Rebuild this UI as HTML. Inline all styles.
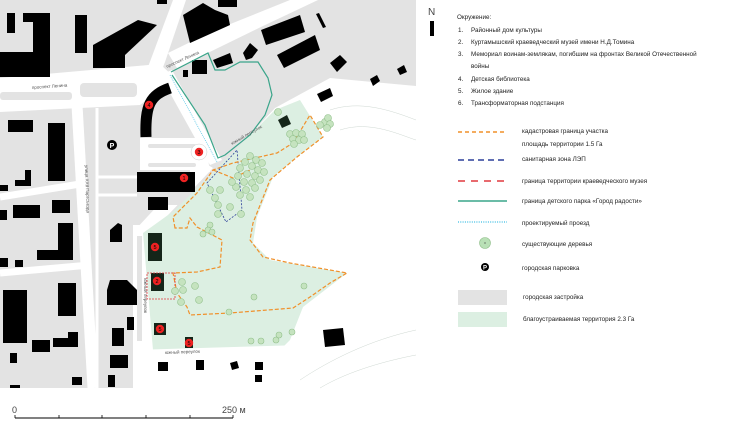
<!DOCTYPE html>
<html><head><meta charset="utf-8"><style>
html,body{margin:0;padding:0;background:#fff;width:752px;height:427px;overflow:hidden}
svg{display:block}
text{font-family:"Liberation Sans",sans-serif;fill:#222}
</style></head><body>
<svg width="752" height="427" viewBox="0 0 752 427" xmlns="http://www.w3.org/2000/svg">
<rect x="0" y="0" width="416" height="388" fill="#e3e3e3"/>
<g fill="#fff">
<polygon points="0,78 160,64 175,78 140,105 0,112"/>
<polygon points="168,53 213,31 290,0 318,0 263,26 177,68"/>
<polygon points="173,0 186,0 165,62 160,75 145,75"/>
<polygon points="180,210 275,108 330,78 416,86 416,388 148,388 143,232"/>
<polygon points="160,75 172,70 222,160 210,165"/>
<polygon points="140,138 205,138 210,172 140,172"/>
<polygon points="200,160 213,168 148,236 135,230"/>
<rect x="133" y="225" width="17" height="163"/>
</g>
<g fill="#e3e3e3">
<rect x="80" y="83" width="57" height="14" rx="4"/>
<rect x="0" y="92" width="72" height="8" rx="3"/>
<rect x="148" y="144" width="48" height="4" rx="2"/>
<rect x="148" y="163" width="48" height="4" rx="2"/>
<rect x="137" y="236" width="5" height="105"/>
<polygon points="140,170 190,170 190,205 140,205"/>
</g>
<g stroke="#fff" fill="none">
<line x1="77" y1="105" x2="93" y2="388" stroke-width="11"/>
<line x1="0" y1="197" x2="80" y2="184" stroke-width="7"/>
<line x1="0" y1="273" x2="90" y2="265" stroke-width="7"/>
<line x1="97" y1="177" x2="137" y2="177" stroke-width="3"/>
<line x1="97" y1="195" x2="137" y2="195" stroke-width="3"/>
<line x1="97" y1="108" x2="97" y2="388" stroke-width="3"/>
</g>
<polygon fill="#dcefe2" points="143,233 175,210 275,110 300,100 323,137 297,157 273,177 257,217 253,243 270,260 347,273 303,307 290,340 283,347 153,350"/>
<line x1="150" y1="352" x2="285" y2="348" stroke="#fff" stroke-width="5"/>
<g stroke="#cfd8d2" stroke-width="0.5" fill="none">
<path d="M330,110 C360,100 390,110 416,120"/><path d="M340,130 C370,120 400,135 416,140"/>
<path d="M300,380 C330,360 370,340 416,330"/><path d="M320,388 C350,370 390,360 416,355"/>
</g>
<g fill="#000">
<polygon points="23,13 50,13 50,77 0,77 0,52 33,52 33,22 23,22"/>
<rect x="7" y="13" width="8" height="20"/>
<rect x="75" y="15" width="12" height="38"/>
<polygon points="93,45 138,20 157,25 125,55 125,68 93,68"/>
<polygon points="183,15 203,3 215,10 228,15 230,25 190,43"/>
<rect x="218" y="0" width="19" height="7"/>
<rect x="157" y="0" width="10" height="4"/>
<polygon points="261,30 300,15 305,32 266,45"/>
<polygon points="277,55 315,35 320,50 284,68"/>
<polygon points="316,14 319,13 326,27 323,28"/>
<polygon points="330,63 340,55 347,62 337,72"/>
<polygon points="370,79 377,75 380,81 373,86"/>
<polygon points="397,69 404,65 407,72 400,75"/>
<polygon points="243,53 250,43 258,50 252,58 246,60"/>
<polygon points="213,60 230,53 233,63 217,68"/>
<rect x="192" y="60" width="15" height="14"/>
<rect x="183" y="70" width="5" height="7"/>
<polygon points="317,94 330,88 333,96 321,102"/>
<rect x="8" y="120" width="25" height="12"/>
<rect x="48" y="123" width="17" height="58"/>
<polygon points="25,170 31,170 31,186 15,186 15,180 25,180"/>
<rect x="0" y="185" width="8" height="6"/>
<rect x="13" y="205" width="27" height="13"/>
<rect x="52" y="200" width="18" height="13"/>
<rect x="0" y="210" width="7" height="10"/>
<polygon points="58,223 73,223 73,260 37,260 37,250 58,250"/>
<rect x="0" y="258" width="8" height="9"/>
<rect x="15" y="260" width="8" height="7"/>
<rect x="3" y="290" width="24" height="53"/>
<rect x="58" y="283" width="18" height="33"/>
<rect x="32" y="340" width="18" height="12"/>
<polygon points="68,332 78,332 78,347 53,347 53,338 68,338"/>
<rect x="10" y="353" width="7" height="10"/>
<rect x="72" y="377" width="10" height="8"/>
<rect x="10" y="385" width="10" height="3"/>
<polygon points="110,230 118,223 122,225 122,242 110,242"/>
<polygon points="110,280 127,280 137,290 137,305 107,305 107,290"/>
<rect x="127" y="317" width="7" height="13"/>
<rect x="112" y="328" width="12" height="18"/>
<rect x="110" y="355" width="18" height="13"/>
<rect x="108" y="375" width="7" height="12"/>
<rect x="137" y="172" width="58" height="20"/>
<rect x="148" y="197" width="20" height="13"/>
<rect x="158" y="362" width="10" height="9"/>
<rect x="196" y="360" width="8" height="10"/>
<polygon points="230,363 237,361 239,368 232,370"/>
<rect x="255" y="362" width="8" height="8"/>
<rect x="255" y="375" width="7" height="7"/>
<polygon points="323,330 343,328 345,345 325,347"/>
</g>
<path d="M170,88 C150,95 145,105 146,137" stroke="#000" stroke-width="11" fill="none"/>
<g fill="#152519">
<rect x="148" y="233" width="14" height="28"/>
<rect x="151" y="273" width="13" height="18"/>
<rect x="154" y="323" width="12" height="12"/>
<rect x="185" y="337" width="8" height="11"/>
<polygon points="278,120 287,115 291,124 282,128"/>
</g>
<polyline fill="none" stroke="#3aa58a" stroke-width="1.2" points="171,72 208,53 215,70 225,70 240,62 258,62 268,78 272,95 265,115 250,135 225,155 218,158 205,125 172,75"/>
<line x1="170" y1="75" x2="217" y2="162" stroke="#5bc8e8" stroke-width="0.8" stroke-dasharray="1,1"/>
<polygon points="207,183 237,150 242,210 226,222" fill="none" stroke="#2c3e9a" stroke-width="0.8" stroke-dasharray="2,1.5"/>
<polygon fill="none" stroke="#f0902a" stroke-width="1.2" stroke-dasharray="4,2" points="175,228 173,217 197,193 213,170 233,163 277,153 293,143 310,115 323,137 297,157 270,180 253,223 250,240 263,257 290,263 347,273 330,283 310,297 293,308 230,313 190,315 187,307 177,293 173,273 197,272 220,267 222,240 197,227 190,218 187,228"/>
<polyline fill="none" stroke="#f0902a" stroke-width="1.2" stroke-dasharray="4,2" points="213,170 233,178 250,170"/>
<rect x="147" y="273" width="28" height="26" fill="none" stroke="#e0393e" stroke-width="0.8" stroke-dasharray="2,1"/>
<g fill="#c5e3bf" stroke="#92c08c" stroke-width="0.6">
<circle cx="278" cy="112" r="3.5"/><circle cx="325" cy="122" r="3.5"/><circle cx="328" cy="118" r="3.5"/><circle cx="320" cy="125" r="3.5"/><circle cx="330" cy="124" r="3.5"/><circle cx="327" cy="128" r="3.5"/>
<circle cx="290" cy="134" r="3.5"/><circle cx="296" cy="133" r="3.5"/><circle cx="302" cy="134" r="3.5"/><circle cx="293" cy="139" r="3.5"/><circle cx="299" cy="140" r="3.5"/><circle cx="304" cy="140" r="3.5"/><circle cx="294" cy="144" r="3.5"/>
<circle cx="250" cy="156" r="3.5"/><circle cx="256" cy="160" r="3.5"/><circle cx="245" cy="162" r="3.5"/><circle cx="262" cy="163" r="3.5"/><circle cx="252" cy="166" r="3.5"/><circle cx="240" cy="168" r="3.5"/><circle cx="258" cy="170" r="3.5"/><circle cx="264" cy="172" r="3.5"/><circle cx="247" cy="174" r="3.5"/><circle cx="255" cy="176" r="3.5"/><circle cx="238" cy="176" r="3.5"/><circle cx="244" cy="182" r="3.5"/><circle cx="252" cy="183" r="3.5"/><circle cx="260" cy="180" r="3.5"/><circle cx="236" cy="187" r="3.5"/><circle cx="246" cy="190" r="3.5"/><circle cx="255" cy="188" r="3.5"/><circle cx="240" cy="195" r="3.5"/><circle cx="250" cy="197" r="3.5"/><circle cx="232" cy="182" r="3.5"/>
<circle cx="210" cy="190" r="3.5"/><circle cx="220" cy="190" r="3.5"/><circle cx="215" cy="198" r="3.5"/><circle cx="218" cy="205" r="3.5"/><circle cx="230" cy="207" r="3.5"/><circle cx="218" cy="214" r="3.5"/><circle cx="241" cy="214" r="3.5"/>
<circle cx="210" cy="225" r="3"/><circle cx="208" cy="230" r="3"/><circle cx="203" cy="234" r="3"/><circle cx="212" cy="232" r="3"/>
<circle cx="182" cy="282" r="3.5"/><circle cx="183" cy="290" r="3.5"/><circle cx="195" cy="286" r="3.5"/><circle cx="175" cy="291" r="3.5"/><circle cx="181" cy="302" r="3.5"/><circle cx="199" cy="300" r="3.5"/>
<circle cx="254" cy="297" r="3"/><circle cx="229" cy="312" r="3"/><circle cx="304" cy="286" r="3"/><circle cx="292" cy="332" r="3"/>
<circle cx="251" cy="341" r="3"/><circle cx="261" cy="341" r="3"/><circle cx="276" cy="340" r="3"/><circle cx="279" cy="335" r="3"/>
</g>
<circle cx="112" cy="145" r="5" fill="#000"/><text x="112" y="148" font-size="7" text-anchor="middle" style="fill:#fff" font-weight="bold">P</text>
<circle cx="199" cy="152" r="8" fill="#fff" stroke="#ccc" stroke-width="0.5"/>
<g fill="#e22">
<circle cx="149" cy="105" r="4.2"/><circle cx="184" cy="178" r="4.2"/><circle cx="199" cy="152" r="4.2"/>
<circle cx="155" cy="247" r="4.2"/><circle cx="157" cy="281" r="4.2"/><circle cx="160" cy="329" r="4.2"/><circle cx="189" cy="343" r="4.2"/>
</g>
<g font-size="5.5" text-anchor="middle">
<text x="149" y="107" style="fill:#000">4</text><text x="184" y="180" style="fill:#000">1</text><text x="199" y="154" style="fill:#000">3</text><text x="155" y="249" style="fill:#000">5</text><text x="157" y="283" style="fill:#000">2</text><text x="160" y="331" style="fill:#000">5</text><text x="189" y="345" style="fill:#000">5</text>
</g>
<g font-size="4.5">
<text x="32" y="89" transform="rotate(-4 32 89)" style="fill:#555">проспект Ленина</text>
<text x="167" y="68" transform="rotate(-24 167 68)" style="fill:#555">проспект Ленина</text>
<text x="85" y="165" transform="rotate(88 85 165)" style="fill:#555">улица XXII Партсъезда</text>
<text x="165" y="354" transform="rotate(-2 165 354)" style="fill:#555">южный переулок</text>
<text x="144" y="278" transform="rotate(90 144 278)" style="fill:#555">южный переулок</text>
<text x="232" y="145" transform="rotate(-30 232 145)" style="fill:#555">южный переулок</text>
</g>
<text x="12" y="413" font-size="9" style="fill:#444">0</text>
<text x="222" y="413" font-size="9" style="fill:#444">250 м</text>
<line x1="15" y1="418" x2="233" y2="418" stroke="#000" stroke-width="1"/>
<g stroke="#000" stroke-width="0.8"><line x1="15" y1="415" x2="15" y2="418"/><line x1="59" y1="415" x2="59" y2="418"/><line x1="102" y1="415" x2="102" y2="418"/><line x1="146" y1="415" x2="146" y2="418"/><line x1="190" y1="415" x2="190" y2="418"/><line x1="233" y1="415" x2="233" y2="418"/></g>
<text x="428" y="15" font-size="10" style="fill:#444">N</text>
<rect x="430" y="21" width="4" height="15" fill="#000"/>
<g font-size="6.3">
<text x="457" y="19">Окружение:</text>
<text x="458" y="32">1.</text><text x="471" y="32">Районный дом культуры</text>
<text x="458" y="44">2.</text><text x="471" y="44">Куртамышский краеведческий музей имени Н.Д.Томина</text>
<text x="458" y="56">3.</text><text x="471" y="56">Мемориал воинам-землякам, погибшим на фронтах Великой Отечественной</text>
<text x="471" y="68">войны</text>
<text x="458" y="81">4.</text><text x="471" y="81">Детская библиотека</text>
<text x="458" y="93">5.</text><text x="471" y="93">Жилое здание</text>
<text x="458" y="105">6.</text><text x="471" y="105">Трансформаторная подстанция</text>
<text x="522" y="133">кадастровая граница участка</text>
<text x="522" y="146">площадь территории 1.5 Га</text>
<text x="522" y="161">санитарная зона ЛЭП</text>
<text x="522" y="183">граница территории краеведческого музея</text>
<text x="522" y="203">граница детского парка «Город радости»</text>
<text x="522" y="225">проектируемый проезд</text>
<text x="522" y="246">существующие деревья</text>
<text x="522" y="270">городская парковка</text>
<text x="523" y="299">городская застройка</text>
<text x="523" y="321">благоустраиваемая территория 2.3 Га</text>
</g>
<line x1="458" y1="132" x2="507" y2="132" stroke="#f0902a" stroke-width="1.5" stroke-dasharray="4,3"/>
<line x1="458" y1="160" x2="507" y2="160" stroke="#2c3e9a" stroke-width="1.5" stroke-dasharray="6,4"/>
<line x1="458" y1="181" x2="507" y2="181" stroke="#e0393e" stroke-width="1.5" stroke-dasharray="7,6"/>
<line x1="458" y1="201" x2="507" y2="201" stroke="#3aa58a" stroke-width="1.5"/>
<line x1="458" y1="222" x2="507" y2="222" stroke="#5bc8e8" stroke-width="1.5" stroke-dasharray="1,1.3"/>
<circle cx="485" cy="243" r="5.5" fill="#b9e0b6" stroke="#92c08c" stroke-width="0.6"/><circle cx="485" cy="243" r="0.6" fill="#333"/>
<circle cx="485" cy="267" r="4" fill="#000"/><text x="485" y="269.5" font-size="6" text-anchor="middle" style="fill:#fff" font-weight="bold">P</text>
<rect x="458" y="290" width="49" height="15" fill="#e3e3e3"/>
<rect x="458" y="312" width="49" height="15" fill="#dcefe2"/>
</svg>
</body></html>
